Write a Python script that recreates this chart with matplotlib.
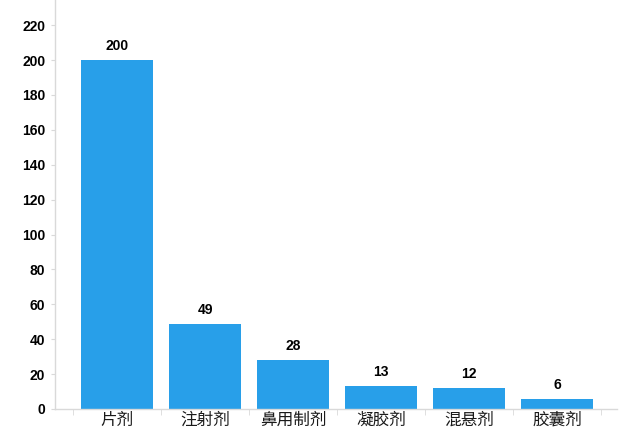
import matplotlib
matplotlib.use('Agg')
from matplotlib import pyplot as plt
import numpy as np

categorias = ['片剂', '注射剂', '鼻用制剂', '凝胶剂', '混悬剂', '胶囊剂']
valores = [200, 49, 28, 13, 12, 6]
yticks = list(range(0, 240, 20))

cor_barra = '#289FE9'
cor_eixo = '#D9D9D9'

fig = plt.figure(figsize=(6.26, 4.32), dpi=100)
ax = fig.add_axes([55 / 626, 23 / 432, 562 / 626, 409 / 432])

x = np.arange(len(categorias))
barras = ax.bar(x, valores, width=0.82, color=cor_barra, zorder=2)

for b, v in zip(barras, valores):
    ax.text(b.get_x() + b.get_width() / 2, v + 4, str(v), ha='center', va='bottom',
            fontsize=10, fontweight='bold', family='Liberation Sans')

ax.set_xlim(-0.5 - 18 / 88, len(categorias) - 0.5 + 16 / 88)
ax.set_ylim(0, 234.4)

ax.set_yticks(yticks)
ax.set_yticklabels([str(t) for t in yticks], fontsize=10, fontweight='bold', family='Liberation Sans')
ax.tick_params(axis='y', length=3, color=cor_eixo, pad=4)

ax.set_xticks(x)
ax.set_xticklabels(categorias, fontsize=12, color='#1a1a1a', family=['Noto Sans CJK SC', 'DejaVu Sans'])
ax.tick_params(axis='x', which='major', length=0, pad=2)
ax.set_xticks(np.arange(len(categorias) + 1) - 0.5, minor=True)
ax.tick_params(axis='x', which='minor', length=4, color=cor_eixo)

for lado in ['top', 'right']:
    ax.spines[lado].set_visible(False)
for lado in ['left', 'bottom']:
    ax.spines[lado].set_color(cor_eixo)
    ax.spines[lado].set_linewidth(1)

fig.savefig('out.png', dpi=100)
